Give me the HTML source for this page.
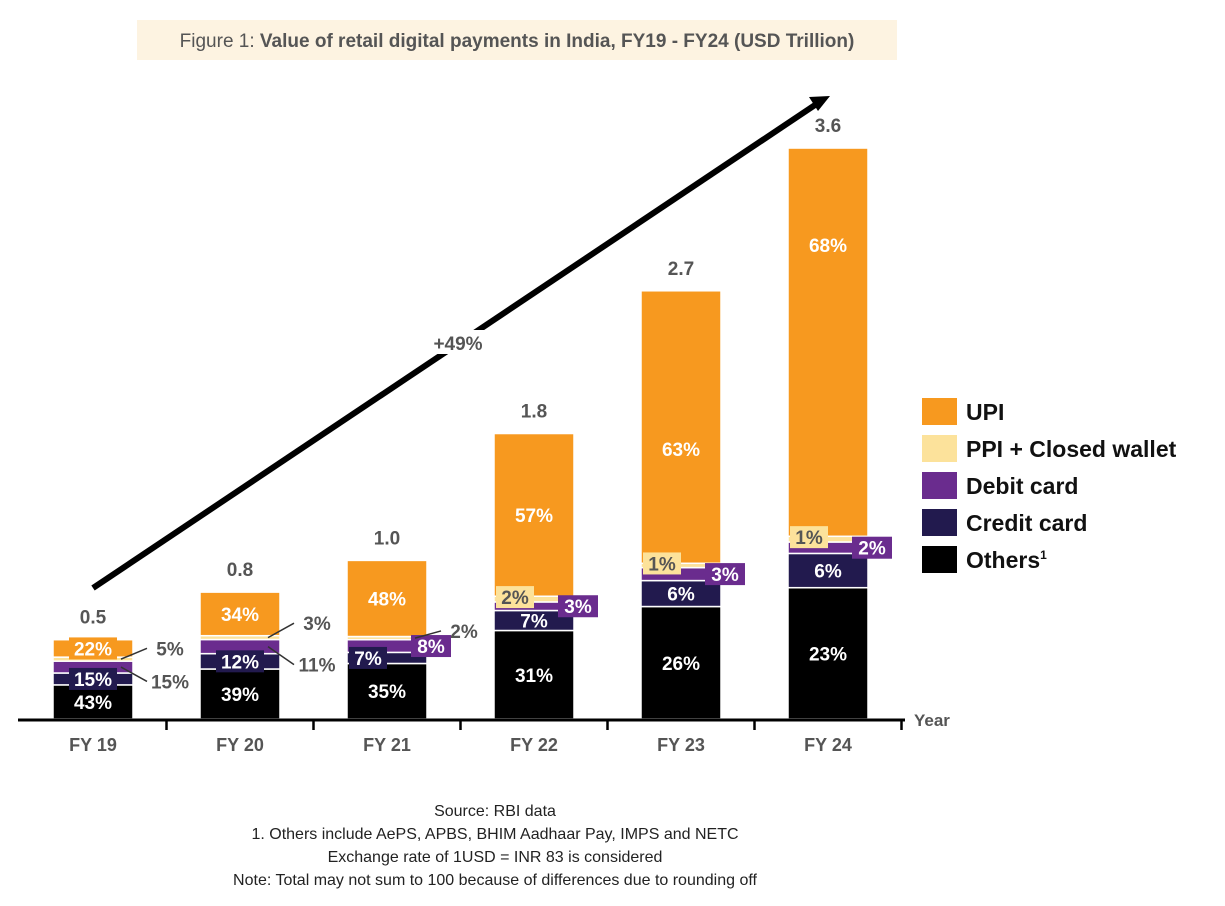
<!DOCTYPE html>
<html><head><meta charset="utf-8"><style>
body{margin:0;background:#fff;font-family:"Liberation Sans",sans-serif;}
svg text{font-family:"Liberation Sans",sans-serif;}
</style></head><body>
<svg width="1225" height="901" xmlns="http://www.w3.org/2000/svg">
<rect x="137" y="20" width="760" height="40" fill="#FDF3E1"/>
<text x="517" y="47" text-anchor="middle" font-size="19" fill="#555">Figure 1: <tspan font-weight="bold">Value of retail digital payments in India, FY19 - FY24 (USD Trillion)</tspan></text>
<g id="bars"></g>
<line x1="93" y1="588" x2="818" y2="103" stroke="#000" stroke-width="6"/>
<polygon points="830,96 809,97 818,111" fill="#000"/>
<rect x="428" y="330" width="62" height="24" fill="#fff"/>
<text x="458" y="350" text-anchor="middle" font-size="19" font-weight="bold" fill="#555">+49%</text>
<line x1="18" y1="720" x2="905" y2="720" stroke="#000" stroke-width="3"/>
<text x="914" y="726" font-size="17" font-weight="bold" fill="#555">Year</text>
<g id="legend"></g>
<g font-size="16" fill="#222" text-anchor="middle">
<text x="495" y="816">Source: RBI data</text>
<text x="495" y="839">1. Others include AePS, APBS, BHIM Aadhaar Pay, IMPS and NETC</text>
<text x="495" y="862">Exchange rate of 1USD = INR 83 is considered</text>
<text x="495" y="885">Note: Total may not sum to 100 because of differences due to rounding off</text>
</g>
</svg>
<script>
const categories=["FY 19","FY 20","FY 21","FY 22","FY 23","FY 24"];
const totals=[0.5,0.8,1.0,1.8,2.7,3.6];
const totalLabels=["0.5","0.8","1.0","1.8","2.7","3.6"];
const others=[43,39,35,31,26,23];
const credit=[15,12,7,7,6,6];
const debit=[15,11,8,3,3,2];
const ppi=[5,3,2,2,1,1];
const upi=[22,34,48,57,63,68];
const seriesNames=["Others","Credit card","Debit card","PPI + Closed wallet","UPI"];
const seriesData=[others,credit,debit,ppi,upi];
const colors=["#000000","#221A4E","#6A2C8E","#FCE29B","#F7991F"];
const textColors=["#fff","#fff","#fff","#555","#fff"];
// label placement styles: [mode, dx, dy] per bar per series (mode: in / box / out)
const labelStyle=[
 [["in",0,0],["box",0,0],["out",0,8],["out",0,-6],["box",0,0]],
 [["in",0,0],["box",0,0],["out",0,10],["out",0,-8],["in",0,0]],
 [["in",0,0],["boxL",0,0],["boxR",0,0],["out",0,-4],["in",0,0]],
 [["in",0,0],["in",0,0],["boxR",0,0],["boxL",0,-2],["in",0,0]],
 [["in",0,0],["in",0,0],["boxR",0,0],["boxL",0,-2],["in",0,0]],
 [["in",0,0],["in",0,0],["boxR",0,0],["boxL",0,-2],["in",0,0]]
];
const upiFrac=[0.5,0.5,0.5,0.5,0.58,0.25];
const NS="http://www.w3.org/2000/svg";
const base=719, pxPer=158.6, x0=53, step=147, bw=80;
const yS=v=>base-v*pxPer;
const xS=i=>x0+i*step;
function mk(tag,attrs,parent){const e=document.createElementNS(NS,tag);for(const k in attrs)e.setAttribute(k,attrs[k]);parent.appendChild(e);return e;}
const g=document.getElementById('bars');
for(let i=0;i<categories.length;i++){
  const x=xS(i);
  const sum=seriesData.reduce((a,s)=>a+s[i],0);
  let cum=0;
  const segs=[];
  for(let s=0;s<5;s++){
    const y1=yS(totals[i]*cum/sum);cum+=seriesData[s][i];const y2=yS(totals[i]*cum/sum);
    const r=mk('rect',{x:x,y:y2,width:bw,height:Math.max(1,y1-y2),fill:colors[s],stroke:'#fff','stroke-width':1.5},g);
    
    
    segs.push([y2,y1]);
  }
  for(let s=0;s<5;s++){
    const [t,b]=segs[s];const cy=(t+b)/2;
    const lbl=seriesData[s][i]+'%';
    const [mode,dx,dy]=labelStyle[i][s];
    let tx=x+bw/2, ty=cy+7+dy, fill=textColors[s];
    if(s===4&&mode==='in') ty=t+(b-t)*upiFrac[i]+7;
    if(mode==='box'){
      mk('rect',{x:x+bw/2-24,y:cy-11+dy,width:48,height:22,fill:colors[s]},g);
    } else if(mode==='boxL'){
      mk('rect',{x:x+2,y:cy-11+dy,width:38,height:22,fill:colors[s]},g);
      tx=x+21;
    } else if(mode==='boxR'){
      mk('rect',{x:x+bw-16,y:cy-11+dy,width:40,height:22,fill:colors[s]},g);
      tx=x+bw+4;
    } else if(mode==='out'){
      const ly=cy+dy*1.8;
      mk('line',{x1:x+bw-12,y1:cy,x2:x+bw+14,y2:ly,stroke:'#333','stroke-width':1.5},g);
      tx=x+bw+37;ty=ly+7;fill='#555';
    }
    const tEl=mk('text',{x:tx,y:ty,'text-anchor':'middle','font-size':19,'font-weight':'bold',fill:fill},g);
    tEl.textContent=lbl;
    
    
  }
  const tl=mk('text',{x:x+bw/2,y:yS(totals[i])-16,'text-anchor':'middle','font-size':19,'font-weight':'bold',fill:'#555'},g);
  tl.textContent=totalLabels[i];
  
  
  const cl=mk('text',{x:x+bw/2,y:751,'text-anchor':'middle','font-size':18,'font-weight':'bold',fill:'#555'},g);
  cl.textContent=categories[i];
  
  
  const tk=mk('line',{x1:x+bw+(step-bw)/2,y1:720,x2:x+bw+(step-bw)/2,y2:730,stroke:'#000','stroke-width':2.5},g);
  
  
}
const lg=document.getElementById('legend');
for(let k=0;k<5;k++){
  const s=4-k;const y=398+k*37;
  const r=mk('rect',{x:922,y:y,width:35,height:27,fill:colors[s]},lg);
  
  
  const t=mk('text',{x:966,y:y+22,'font-size':23,'font-weight':'bold',fill:'#111'},lg);
  t.textContent=seriesNames[s];
  if(s===0){const sup=mk('tspan',{'font-size':12,dy:-9},t);sup.textContent='1';}
  
  
}
</script>
</body></html>
